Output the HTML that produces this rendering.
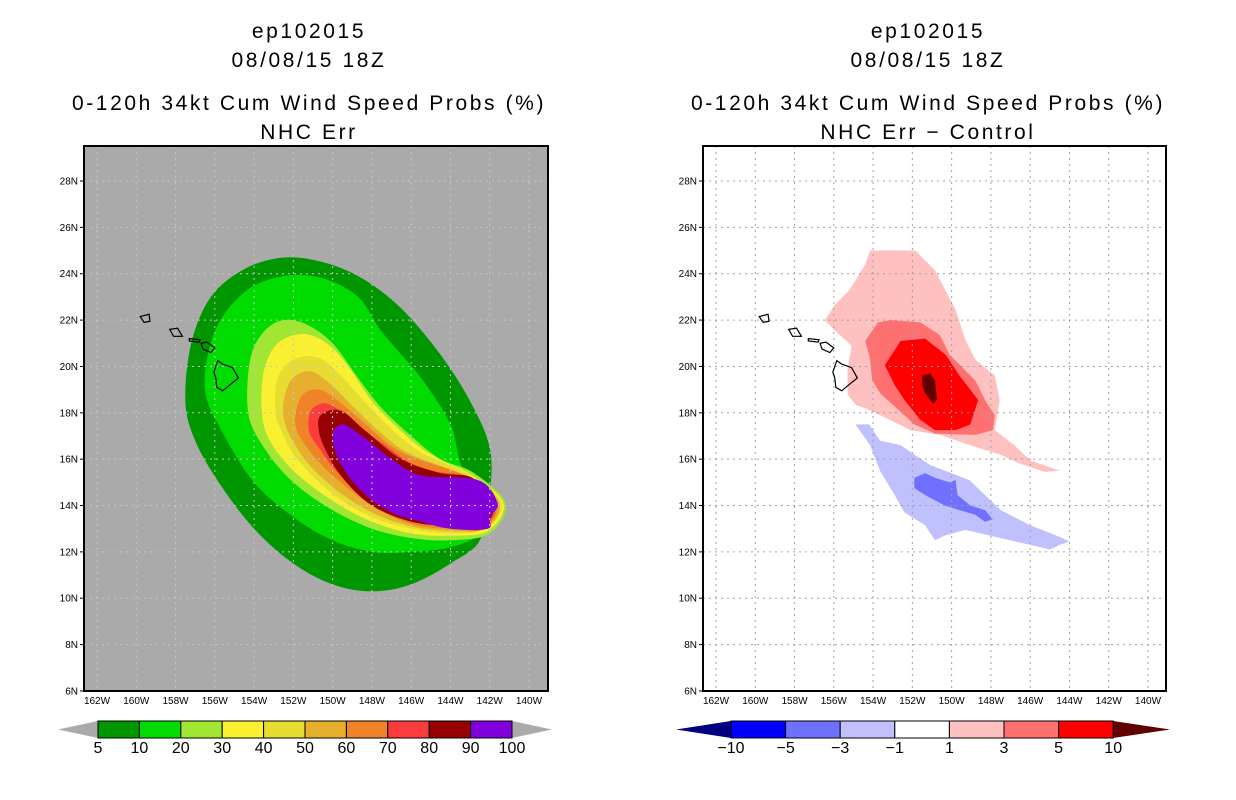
<!DOCTYPE html>
<html><head><meta charset="utf-8"><style>
html,body{margin:0;padding:0;background:#fff;}
svg{display:block;font-family:"Liberation Sans",sans-serif;}
.t{font-size:21px;text-anchor:middle;fill:#000;letter-spacing:2.6px}
.tk{font-size:10px;fill:#000}
.cb{font-size:16px;fill:#000;text-anchor:middle}
</style></head><body>
<svg id="chart" width="1236" height="800" viewBox="0 0 1236 800">
<g>
<text class="t" x="309" y="38">ep102015</text>
<text class="t" x="309" y="67">08/08/15 18Z</text>
<text class="t" x="309" y="110">0-120h 34kt Cum Wind Speed Probs (%)</text>
<text class="t" x="309" y="139">NHC Err</text>
</g>
<g>
<text class="t" x="928" y="38">ep102015</text>
<text class="t" x="928" y="67">08/08/15 18Z</text>
<text class="t" x="928" y="110">0-120h 34kt Cum Wind Speed Probs (%)</text>
<text class="t" x="928" y="139">NHC Err − Control</text>
</g>
<defs>
<clipPath id="clipL"><rect x="84" y="146" width="464" height="545"/></clipPath>
<clipPath id="clipR"><rect x="703" y="146" width="463" height="545"/></clipPath>
</defs>
<rect x="84" y="146" width="464" height="545" fill="#aaaaaa"/>
<g id="left-fills" clip-path="url(#clipL)"></g>
<g id="right-fills" clip-path="url(#clipR)"></g>
<g id="grids"></g>
<g id="islands"></g>
<rect x="84" y="146" width="464" height="545" fill="none" stroke="#000" stroke-width="2"/>
<rect x="703" y="146" width="463" height="545" fill="none" stroke="#000" stroke-width="2"/>
<g id="axes"></g>
<g id="colorbars"></g>
</svg>
<script>
// ---- data ----
const lonTicks = [162,160,158,156,154,152,150,148,146,144,142,140];
const latTicks = [28,26,24,22,20,18,16,14,12,10,8,6];
const probLevels = [5,10,20,30,40,50,60,70,80,90,100];
const probColors = ["#009600","#00dc00","#a0e632","#faf032","#e6dc32","#e6af2d","#f08228","#fa3c3c","#960000","#8200dc"];
const diffLevels = [-10,-5,-3,-1,1,3,5,10];
const diffColors = ["#0000ff","#7070ff","#c0c0ff","#ffffff","#ffc0c0","#ff7070","#ff0000"];
// contour polygons [lonW, latN]
const prob5 = [[157.5,18.5],[157.2,21],[156.2,23],[154.5,24.2],[152.5,24.7],[150.5,24.5],[148.5,23.8],[146.5,22.5],[144.5,20.5],[143,18.5],[142,16.5],[142,14.5],[142.5,12.5],[144,11.5],[146,10.6],[148,10.3],[150,10.6],[152,11.5],[154,13],[155.8,15],[157,16.8]];
const prob10 = [[156.5,19],[156,21.5],[154.5,23.2],[152.5,23.9],[150.5,23.8],[148.7,23],[147.5,21.5],[145.5,19.5],[144,17.5],[143.3,15.5],[141.4,14],[142.4,12.8],[144,12.2],[146,12],[148,12],[150,12.5],[152,13.5],[154,15],[155.5,17]];
const prob20 = [[154.3,18],[154.2,20.3],[153.5,21.5],[152.5,22],[151.3,21.8],[150,21],[148.7,19.5],[147.5,18.2],[146,17],[144.5,16],[142.8,15.4],[141.2,14.1],[142,12.8],[144,12.5],[146,12.6],[148,13],[150,13.8],[152,15],[153.5,16.5]];
const prob30 = [[153.6,18],[153.5,19.8],[152.8,21],[151.5,21.4],[150.3,21],[149.2,20],[148,18.5],[146.5,17.2],[145,16.2],[142.9,15.3],[141.3,14.1],[142.1,12.9],[144,12.7],[146,12.8],[148,13.3],[150,14.2],[152,15.5],[153.2,16.8]];
const prob40 = [[152.9,18],[152.8,19.5],[152,20.3],[150.8,20.4],[149.8,19.8],[148.5,18.6],[147,17.3],[145.5,16.3],[143,15.3],[141.4,14.1],[142.2,13],[144,12.8],[146,13],[148,13.5],[150,14.5],[151.8,16],[152.6,17.2]];
const prob50 = [[152.5,17.8],[152.2,19.3],[151.2,19.8],[150.2,19.3],[149,18.3],[147.5,17.1],[146,16.2],[143,15.2],[141.5,14.1],[142.2,13],[144,12.9],[146,13.1],[148,13.7],[150,14.8],[151.6,16.2]];
const prob60 = [[151.9,17.5],[151.6,18.7],[150.7,19],[149.7,18.5],[148.3,17.5],[146.5,16.3],[143,15.2],[141.6,14.1],[142.3,13],[144,13],[146,13.2],[148,14],[150,15.3],[151.3,16.5]];
const prob70 = [[151.2,17.2],[151.1,18.1],[150.3,18.4],[149.2,17.8],[147.5,16.7],[145.5,15.6],[143,15.2],[141.7,14.1],[142.4,13],[144,13.1],[146,13.4],[148,14.2],[149.8,15.5],[150.7,16.5]];
const prob80 = [[150.7,17.2],[150.6,17.9],[149.6,18.1],[148.3,17.2],[146.5,16],[144.5,15.4],[142.9,15.2],[141.8,14.1],[142.4,13],[144,13.1],[146,13.3],[148,14],[149.5,15.2],[150.3,16.3]];
const prob90 = [[150,17],[149.5,17.5],[148.5,17],[147,16],[145.5,15.3],[142.6,15.1],[141.6,14.1],[142,13.5],[142.1,13],[144,13],[145.5,13.3],[147,13.7],[148.5,14.6],[149.6,15.8]];
const diffP1 = [[154.15,25.0],[151.85,25.0],[150.85,24.15],[149.8,22.45],[149.3,21.15],[148.8,20.3],[147.8,19.6],[147.55,18.55],[147.8,17.25],[146.8,16.6],[146.0,15.95],[144.5,15.5],[145.25,15.45],[146.5,15.8],[147.55,16.2],[149.05,16.6],[150.6,17.05],[152.1,17.25],[153.15,17.7],[154.15,18.1],[154.9,18.35],[155.3,18.8],[155.3,19.85],[155.1,20.9],[155.95,21.55],[156.45,22.0],[155.95,22.65],[155.2,23.3],[154.4,24.4]];
const diffP3 = [[154.4,21.1],[153.75,21.9],[153.1,22.0],[151.6,21.9],[150.6,21.35],[150.1,20.5],[148.8,19.4],[148.3,18.55],[147.8,17.9],[147.9,17.25],[148.8,17.05],[150.85,17.1],[151.9,17.5],[153.0,18.35],[153.6,18.8],[154.05,19.4],[154.15,20.3]];
const diffP5 = [[153.4,20.05],[152.6,21.1],[151.35,21.2],[150.3,20.5],[149.6,19.6],[148.65,18.55],[149.05,17.5],[149.8,17.25],[150.85,17.25],[151.6,17.7],[152.4,18.55],[152.9,19.2]];
const diffP10 = [[151.5,19.6],[151.1,19.7],[150.85,19.4],[150.75,18.55],[150.95,18.4],[151.35,18.85],[151.5,19.2]];
const diffM1 = [[154.9,17.5],[154.2,17.5],[153.65,16.8],[152.6,16.6],[151.1,15.75],[149.1,15.1],[148.3,14.45],[147.5,13.8],[146.0,13.15],[144.5,12.65],[144.0,12.45],[144.5,12.3],[145.0,12.1],[146.0,12.3],[148.05,12.7],[149.3,12.95],[150.35,12.7],[150.85,12.5],[151.35,13.15],[152.4,13.7],[152.9,14.45],[153.65,15.5],[154.15,16.6]];
const diffM3 = [[151.9,15.2],[151.35,15.4],[150.85,15.2],[150.1,15.0],[149.8,15.1],[149.7,14.45],[149.05,14.0],[148.3,13.8],[147.9,13.4],[148.3,13.3],[148.8,13.6],[149.6,13.8],[150.35,14.0],[151.35,14.45],[151.9,14.75]];
const bigIsland = [[155.85,20.25],[155.6,20.1],[155.1,19.95],[154.8,19.5],[155.1,19.3],[155.6,18.95],[155.9,19.1],[155.95,19.5],[156.05,19.75]];
const maui = [[156.7,21.0],[156.4,21.05],[156.0,20.8],[156.2,20.6],[156.6,20.75]];
const molokai = [[157.3,21.2],[156.75,21.15],[156.8,21.05],[157.3,21.1]];
const oahu = [[158.3,21.6],[157.9,21.65],[157.65,21.3],[158.1,21.3]];
const kauai = [[159.8,22.15],[159.35,22.25],[159.3,21.95],[159.6,21.9]];

// ---- axes ----
const NS="http://www.w3.org/2000/svg";
function xL(lonW){return 97+(162-lonW)*19.636;}
function xR(lonW){return 716+(162-lonW)*19.636;}
function yA(lat){return 181+(28-lat)*23.18;}
function el(tag,attrs,parent){const e=document.createElementNS(NS,tag);for(const k in attrs)e.setAttribute(k,attrs[k]);parent.appendChild(e);return e;}
function smoothPath(pts,xf){const p=pts.map(d=>[xf(d[0]),yA(d[1])]);const n=p.length;let s=`M${p[0][0]},${p[0][1]}`;
 for(let i=0;i<n;i++){const p0=p[(i-1+n)%n],p1=p[i],p2=p[(i+1)%n],p3=p[(i+2)%n];
  const c1=[p1[0]+(p2[0]-p0[0])/6,p1[1]+(p2[1]-p0[1])/6],c2=[p2[0]-(p3[0]-p1[0])/6,p2[1]-(p3[1]-p1[1])/6];
  s+=`C${c1[0]},${c1[1]} ${c2[0]},${c2[1]} ${p2[0]},${p2[1]}`;}return s+"Z";}
function polyPath(pts,xf){return "M"+pts.map(d=>xf(d[0])+","+yA(d[1])).join("L")+"Z";}

const lf=document.getElementById('left-fills');
const probPolys=[prob5,prob10,prob20,prob30,prob40,prob50,prob60,prob70,prob80,prob90];
probPolys.forEach((poly,i)=>{
 const p=el('path',{d:smoothPath(poly,xL),fill:probColors[i]},lf);
 
 
});
const rf=document.getElementById('right-fills');
const diffPolys=[[diffP1,4],[diffP3,5],[diffP5,6],[diffP10,7],[diffM1,2],[diffM3,1]];
const diffNames=['diff-plus-1','diff-plus-3','diff-plus-5','diff-plus-10','diff-minus-1','diff-minus-3'];
diffPolys.forEach((d,i)=>{
 const col=d[1]===7?"#600000":diffColors[d[1]];
 const p=el('path',{d:polyPath(d[0],xR),fill:col},rf);
 
 
});

// grids
const g=document.getElementById('grids');
[[xL,84,548,"#c4c4c4"],[xR,703,1166,"#a0a0a0"]].forEach(([xf,x0,x1,c])=>{
 lonTicks.forEach(l=>{const x=xf(l);if(x>x0&&x<x1){const ln=el('line',{x1:x,x2:x,y1:146,y2:691,stroke:c,'stroke-width':1,'stroke-dasharray':'2,4'},g);
  }});
 latTicks.forEach(l=>{const y=yA(l);if(y>146&&y<691){const ln=el('line',{x1:x0,x2:x1,y1:y,y2:y,stroke:c,'stroke-width':1,'stroke-dasharray':'2,4'},g);
  }});
});
// islands
const gi=document.getElementById('islands');
[xL,xR].forEach(xf=>{[bigIsland,maui,molokai,oahu,kauai].forEach((isl,i)=>{
 const p=el('path',{d:polyPath(isl,xf),fill:"none",stroke:"#000","stroke-width":1.2},gi);
 });});
// tick labels
const ga=document.getElementById('axes');
[[xL,84],[xR,703]].forEach(([xf,fx])=>{
 latTicks.forEach(l=>{const y=yA(l);
  el('line',{x1:fx-4,x2:fx,y1:y,y2:y,stroke:"#000"},ga);
  const t=el('text',{x:fx-6,y:y+3.5,'text-anchor':'end',class:'tk'},ga);t.textContent=l+"N";
  });
 lonTicks.forEach(l=>{const x=xf(l);
  const t=el('text',{x:x,y:704,'text-anchor':'middle',class:'tk'},ga);t.textContent=l+"W";
  });
});
// colorbars
const gc=document.getElementById('colorbars');
(function(){const x0=98,w=41.4,y0=721,h=17;
 const a=el('polygon',{points:`58,${y0+h/2} ${x0},${y0} ${x0},${y0+h}`,fill:"#aaaaaa"},gc);
 const b=el('polygon',{points:`${x0+10*w},${y0} ${x0+10*w+40},${y0+h/2} ${x0+10*w},${y0+h}`,fill:"#aaaaaa"},gc);
 probColors.forEach((c,i)=>{const r=el('rect',{x:x0+i*w,y:y0,width:w,height:h,fill:c,stroke:"#000","stroke-width":1},gc);
  });
 probLevels.forEach((v,i)=>{const t=el('text',{x:x0+i*w,y:753,class:'cb'},gc);t.textContent=v;
  });
})();
(function(){const x0=731,w=54.6,y0=721,h=17;
 const a=el('polygon',{points:`676,${y0+h/2} ${x0},${y0} ${x0},${y0+h}`,fill:"#000080"},gc);
 const b=el('polygon',{points:`${x0+7*w},${y0} ${x0+7*w+57},${y0+h/2} ${x0+7*w},${y0+h}`,fill:"#600000"},gc);
 diffColors.forEach((c,i)=>{const r=el('rect',{x:x0+i*w,y:y0,width:w,height:h,fill:c,stroke:"#000","stroke-width":1},gc);
  });
 diffLevels.forEach((v,i)=>{const t=el('text',{x:x0+i*w,y:753,class:'cb'},gc);t.textContent=v<0?"−"+(-v):v;
  });
})();
</script>
</body></html>
